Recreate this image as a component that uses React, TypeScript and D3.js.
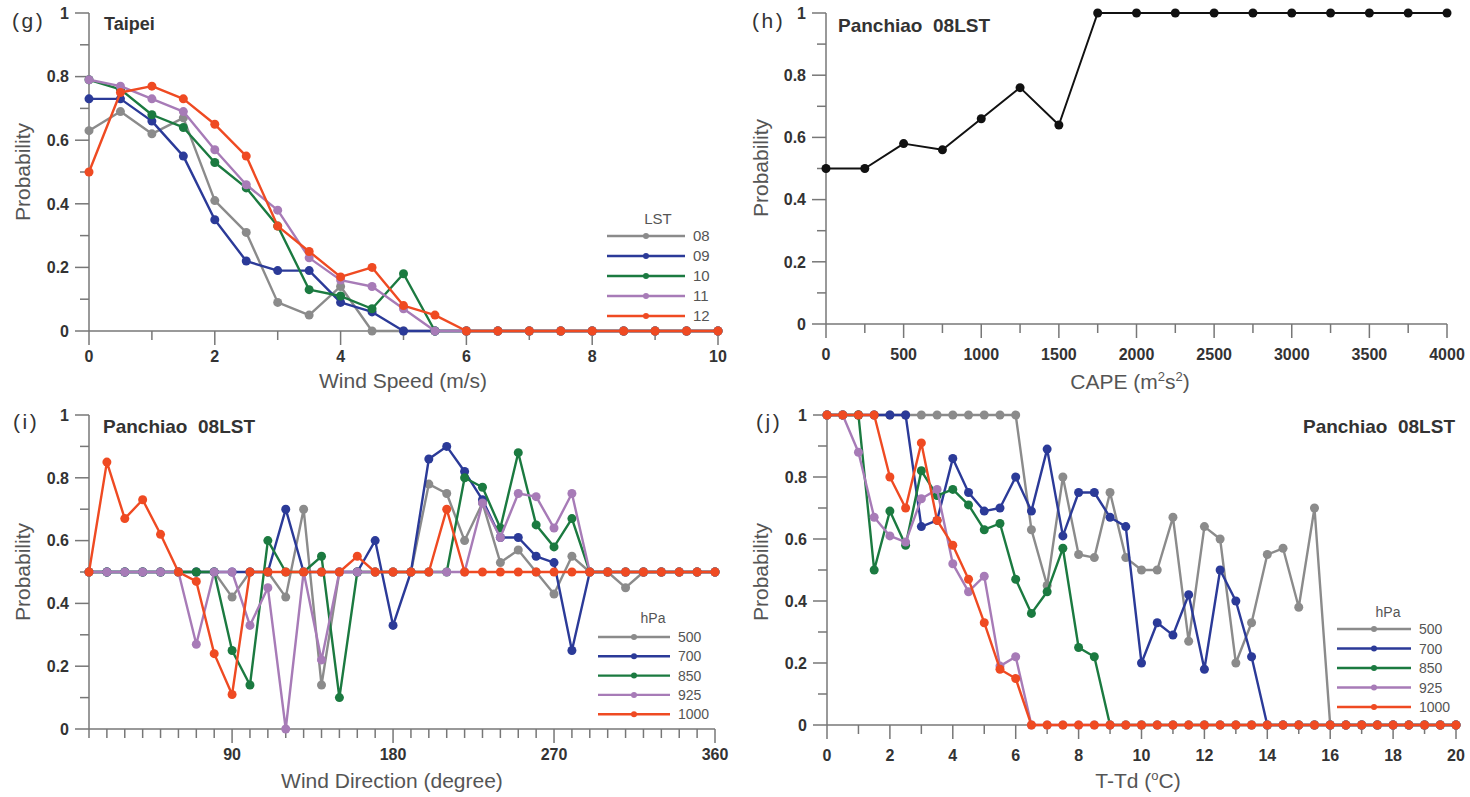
import React from 'react';
import * as d3 from 'd3';

// ---------- (g) Taipei: probability vs wind speed ----------
const windSpeed = [0, 0.5, 1, 1.5, 2, 2.5, 3, 3.5, 4, 4.5, 5, 5.5, 6, 6.5, 7, 7.5, 8, 8.5, 9, 9.5, 10];
const lst08 = [0.63, 0.69, 0.62, 0.67, 0.41, 0.31, 0.09, 0.05, 0.14, 0, 0, 0, 0, 0, 0, 0, 0, 0, 0, 0, 0];
const lst09 = [0.73, 0.73, 0.66, 0.55, 0.35, 0.22, 0.19, 0.19, 0.09, 0.06, 0, 0, 0, 0, 0, 0, 0, 0, 0, 0, 0];
const lst10 = [0.79, 0.76, 0.68, 0.64, 0.53, 0.45, 0.33, 0.13, 0.11, 0.07, 0.18, 0, 0, 0, 0, 0, 0, 0, 0, 0, 0];
const lst11 = [0.79, 0.77, 0.73, 0.69, 0.57, 0.46, 0.38, 0.23, 0.16, 0.14, 0.07, 0, 0, 0, 0, 0, 0, 0, 0, 0, 0];
const lst12 = [0.5, 0.75, 0.77, 0.73, 0.65, 0.55, 0.33, 0.25, 0.17, 0.2, 0.08, 0.05, 0, 0, 0, 0, 0, 0, 0, 0, 0];
const lstLabels = ['08', '09', '10', '11', '12'];

// ---------- (h) Panchiao 08LST: probability vs CAPE ----------
const cape = [0, 250, 500, 750, 1000, 1250, 1500, 1750, 2000, 2250, 2500, 2750, 3000, 3250, 3500, 3750, 4000];
const capeProb = [0.5, 0.5, 0.58, 0.56, 0.66, 0.76, 0.64, 1, 1, 1, 1, 1, 1, 1, 1, 1, 1];

// ---------- (i) Panchiao 08LST: probability vs wind direction ----------
const windDir = [10, 20, 30, 40, 50, 60, 70, 80, 90, 100, 110, 120, 130, 140, 150, 160, 170, 180,
  190, 200, 210, 220, 230, 240, 250, 260, 270, 280, 290, 300, 310, 320, 330, 340, 350, 360];
const dir500 = [0.5, 0.5, 0.5, 0.5, 0.5, 0.5, 0.5, 0.5, 0.42, 0.5, 0.5, 0.42, 0.7, 0.14, 0.5, 0.5, 0.5, 0.5,
  0.5, 0.78, 0.75, 0.6, 0.72, 0.53, 0.57, 0.5, 0.43, 0.55, 0.5, 0.5, 0.45, 0.5, 0.5, 0.5, 0.5, 0.5];
const dir700 = [0.5, 0.5, 0.5, 0.5, 0.5, 0.5, 0.5, 0.5, 0.5, 0.5, 0.5, 0.7, 0.5, 0.5, 0.5, 0.5, 0.6, 0.33,
  0.5, 0.86, 0.9, 0.82, 0.73, 0.61, 0.61, 0.55, 0.53, 0.25, 0.5, 0.5, 0.5, 0.5, 0.5, 0.5, 0.5, 0.5];
const dir850 = [0.5, 0.5, 0.5, 0.5, 0.5, 0.5, 0.5, 0.5, 0.25, 0.14, 0.6, 0.5, 0.5, 0.55, 0.1, 0.5, 0.5, 0.5,
  0.5, 0.5, 0.5, 0.8, 0.77, 0.64, 0.88, 0.65, 0.58, 0.67, 0.5, 0.5, 0.5, 0.5, 0.5, 0.5, 0.5, 0.5];
const dir925 = [0.5, 0.5, 0.5, 0.5, 0.5, 0.5, 0.27, 0.5, 0.5, 0.33, 0.45, 0, 0.5, 0.22, 0.5, 0.5, 0.5, 0.5,
  0.5, 0.5, 0.5, 0.5, 0.72, 0.61, 0.75, 0.74, 0.64, 0.75, 0.5, 0.5, 0.5, 0.5, 0.5, 0.5, 0.5, 0.5];
const dir1000 = [0.5, 0.85, 0.67, 0.73, 0.62, 0.5, 0.47, 0.24, 0.11, 0.5, 0.5, 0.5, 0.5, 0.5, 0.5, 0.55, 0.5, 0.5,
  0.5, 0.5, 0.7, 0.5, 0.5, 0.5, 0.5, 0.5, 0.5, 0.5, 0.5, 0.5, 0.5, 0.5, 0.5, 0.5, 0.5, 0.5];

// ---------- (j) Panchiao 08LST: probability vs T-Td ----------
const tTd = [0, 0.5, 1, 1.5, 2, 2.5, 3, 3.5, 4, 4.5, 5, 5.5, 6, 6.5, 7, 7.5, 8, 8.5, 9, 9.5, 10,
  10.5, 11, 11.5, 12, 12.5, 13, 13.5, 14, 14.5, 15, 15.5, 16, 16.5, 17, 17.5, 18, 18.5, 19, 19.5, 20];
const td500 = [1, 1, 1, 1, 1, 1, 1, 1, 1, 1, 1, 1, 1, 0.63, 0.45, 0.8, 0.55, 0.54, 0.75, 0.54, 0.5,
  0.5, 0.67, 0.27, 0.64, 0.6, 0.2, 0.33, 0.55, 0.57, 0.38, 0.7, 0, 0, 0, 0, 0, 0, 0, 0, 0];
const td700 = [1, 1, 1, 1, 1, 1, 0.64, 0.66, 0.86, 0.75, 0.69, 0.7, 0.8, 0.69, 0.89, 0.61, 0.75, 0.75, 0.67, 0.64, 0.2,
  0.33, 0.29, 0.42, 0.18, 0.5, 0.4, 0.22, 0, 0, 0, 0, 0, 0, 0, 0, 0, 0, 0, 0, 0];
const td850 = [1, 1, 1, 0.5, 0.69, 0.58, 0.82, 0.74, 0.76, 0.71, 0.63, 0.65, 0.47, 0.36, 0.43, 0.57, 0.25, 0.22, 0, 0, 0,
  0, 0, 0, 0, 0, 0, 0, 0, 0, 0, 0, 0, 0, 0, 0, 0, 0, 0, 0, 0];
const td925 = [1, 1, 0.88, 0.67, 0.61, 0.59, 0.73, 0.76, 0.52, 0.43, 0.48, 0.19, 0.22, 0, 0, 0, 0, 0, 0, 0, 0,
  0, 0, 0, 0, 0, 0, 0, 0, 0, 0, 0, 0, 0, 0, 0, 0, 0, 0, 0, 0];
const td1000 = [1, 1, 1, 1, 0.8, 0.7, 0.91, 0.66, 0.58, 0.47, 0.33, 0.18, 0.15, 0, 0, 0, 0, 0, 0, 0, 0,
  0, 0, 0, 0, 0, 0, 0, 0, 0, 0, 0, 0, 0, 0, 0, 0, 0, 0, 0, 0];
const hpaLabels = ['500', '700', '850', '925', '1000'];

const yTickVals = [0, 0.1, 0.2, 0.3, 0.4, 0.5, 0.6, 0.7, 0.8, 0.9, 1];
const yLabelVals = [0, 0.2, 0.4, 0.6, 0.8, 1];

const COLORS = ['#8b8b8b', '#2b3a98', '#1b7a40', '#a77bb7', '#ef4a22'];
const FONT = '"Liberation Sans", Arial, Helvetica, sans-serif';
const AXIS = '#777';
const TXT = '#333';

type Series = { values: number[]; color: string };

type PanelProps = {
  xVals: number[];
  series: Series[];
  xDomain: [number, number];
  xRange: [number, number];
  yRange: [number, number];
  xTicks: number[];
  xLabels: number[];
  labelOffset: number;
  r: number;
  lw: number;
};

function Panel({ xVals, series, xDomain, xRange, yRange, xTicks, xLabels, labelOffset, r, lw }: PanelProps) {
  const x = d3.scaleLinear().domain(xDomain).range(xRange);
  const y = d3.scaleLinear().domain([0, 1]).range(yRange);
  const line = d3.line<number>().x((_, i) => x(xVals[i])).y((d) => y(d));
  const x0 = x(xDomain[0]);
  const y0 = y(0);
  return (
    <g>
      <line x1={x0} x2={x(xDomain[1])} y1={y0} y2={y0} stroke={AXIS} strokeWidth={1.5} />
      <line x1={x0} x2={x0} y1={y0} y2={y(1)} stroke={AXIS} strokeWidth={1.5} />
      {yTickVals.map((v) => {
        const major = yLabelVals.some((m) => Math.abs(m - v) < 1e-9);
        return (
          <g key={'y' + v}>
            <line x1={x0 - (major ? 14 : 9)} x2={x0} y1={y(v)} y2={y(v)} stroke={AXIS} strokeWidth={1.5} />
            {major && (
              <text x={x0 - 20} y={y(v)} dy="0.36em" textAnchor="end" fontSize={16} fontWeight="bold" fill={TXT}>
                {d3.format('~g')(v)}
              </text>
            )}
          </g>
        );
      })}
      {xTicks.map((v) => {
        const major = xLabels.includes(v);
        return (
          <g key={'x' + v}>
            <line x1={x(v)} x2={x(v)} y1={y0} y2={y0 + (major ? 14 : 9)} stroke={AXIS} strokeWidth={1.5} />
            {major && (
              <text x={x(v)} y={y0 + labelOffset} textAnchor="middle" fontSize={16} fontWeight="bold" fill={TXT}>
                {String(v)}
              </text>
            )}
          </g>
        );
      })}
      {series.map((s, si) => (
        <g key={'s' + si}>
          <path d={line(s.values) || ''} fill="none" stroke={s.color} strokeWidth={lw} strokeLinejoin="round" />
          {s.values.map((v, i) => (
            <circle key={i} cx={x(xVals[i])} cy={y(v)} r={r} fill={s.color} />
          ))}
        </g>
      ))}
    </g>
  );
}

function Legend({ title, labels, cx, xl1, xl2, ty, y0, step, fs }: {
  title: string; labels: string[]; cx: number; xl1: number; xl2: number; ty: number; y0: number; step: number; fs: number;
}) {
  return (
    <g>
      <text x={cx} y={ty} textAnchor="middle" fontSize={fs} fill="#555">{title}</text>
      {labels.map((l, i) => {
        const yy = y0 + i * step;
        return (
          <g key={l}>
            <line x1={xl1} x2={xl2} y1={yy} y2={yy} stroke={COLORS[i]} strokeWidth={2.4} />
            <circle cx={(xl1 + xl2) / 2} cy={yy} r={3} fill={COLORS[i]} />
            <text x={xl2 + 8} y={yy} dy="0.36em" fontSize={fs} fill="#555">{l}</text>
          </g>
        );
      })}
    </g>
  );
}

function mk(vals: number[][]): Series[] {
  return vals.map((v, i) => ({ values: v, color: COLORS[i] }));
}

export default function App() {
  return (
    <svg width={1470} height={797} style={{ position: 'absolute', left: 0, top: 0, background: '#fff' }} fontFamily={FONT}>
      {/* (g) */}
      <Panel xVals={windSpeed} series={mk([lst08, lst09, lst10, lst11, lst12])} xDomain={[0, 10]} xRange={[89, 718]}
        yRange={[331, 13]} xTicks={d3.range(0, 11, 1)} xLabels={[0, 2, 4, 6, 8, 10]} labelOffset={31} r={4.5} lw={2.4} />
      <text x={12} y={28} fontSize={21} fill={TXT} letterSpacing={2.5}>(g)</text>
      <text x={104} y={30} fontSize={18} fontWeight="bold" fill={TXT}>Taipei</text>
      <text transform="translate(30,172) rotate(-90)" textAnchor="middle" fontSize={21} fill="#555">Probability</text>
      <text x={403} y={388} textAnchor="middle" fontSize={21} fill="#555">Wind Speed (m/s)</text>
      <Legend title="LST" labels={lstLabels} cx={658} xl1={607} xl2={685} ty={224} y0={236} step={20} fs={15} />

      {/* (h) */}
      <Panel xVals={cape} series={[{ values: capeProb, color: '#111' }]} xDomain={[0, 4000]} xRange={[826, 1447]}
        yRange={[324, 13]} xTicks={d3.range(0, 4001, 250)} xLabels={[0, 500, 1000, 1500, 2000, 2500, 3000, 3500, 4000]}
        labelOffset={36} r={4.5} lw={2} />
      <text x={752} y={28} fontSize={21} fill={TXT} letterSpacing={2.5}>(h)</text>
      <text x={838} y={32} fontSize={19} fontWeight="bold" fill={TXT} style={{ whiteSpace: 'pre' }}>Panchiao  08LST</text>
      <text transform="translate(768,168) rotate(-90)" textAnchor="middle" fontSize={21} fill="#555">Probability</text>
      <text x={1130} y={389} textAnchor="middle" fontSize={21} fill="#555">
        CAPE (m<tspan dy={-8} fontSize={13}>2</tspan><tspan dy={8}>s</tspan><tspan dy={-8} fontSize={13}>2</tspan><tspan dy={8}>)</tspan>
      </text>

      {/* (i) */}
      <Panel xVals={windDir} series={mk([dir500, dir700, dir850, dir925, dir1000])} xDomain={[10, 360]} xRange={[89, 715]}
        yRange={[729, 415]} xTicks={d3.range(10, 361, 10)} xLabels={[90, 180, 270, 360]} labelOffset={31} r={4.5} lw={2.4} />
      <text x={13} y={429} fontSize={21} fill={TXT} letterSpacing={2.5}>(i)</text>
      <text x={103} y={433} fontSize={19} fontWeight="bold" fill={TXT} style={{ whiteSpace: 'pre' }}>Panchiao  08LST</text>
      <text transform="translate(30,572) rotate(-90)" textAnchor="middle" fontSize={21} fill="#555">Probability</text>
      <text x={392} y={788} textAnchor="middle" fontSize={21} fill="#555">Wind Direction (degree)</text>
      <Legend title="hPa" labels={hpaLabels} cx={653} xl1={598} xl2={670} ty={623} y0={637} step={19.3} fs={14} />

      {/* (j) */}
      <Panel xVals={tTd} series={mk([td500, td700, td850, td925, td1000])} xDomain={[0, 20]} xRange={[827, 1456]}
        yRange={[725, 415]} xTicks={d3.range(0, 21, 1)} xLabels={[0, 2, 4, 6, 8, 10, 12, 14, 16, 18, 20]}
        labelOffset={36} r={4.5} lw={2.4} />
      <text x={756} y={429} fontSize={21} fill={TXT} letterSpacing={2.5}>(j)</text>
      <text x={1455} y={433} textAnchor="end" fontSize={19} fontWeight="bold" fill={TXT} style={{ whiteSpace: 'pre' }}>Panchiao  08LST</text>
      <text transform="translate(768,572) rotate(-90)" textAnchor="middle" fontSize={21} fill="#555">Probability</text>
      <text x={1138} y={788} textAnchor="middle" fontSize={21} fill="#555">
        T-Td (<tspan dy={-8} fontSize={13}>o</tspan><tspan dy={8}>C)</tspan>
      </text>
      <Legend title="hPa" labels={hpaLabels} cx={1388} xl1={1337} xl2={1411} ty={617} y0={629} step={19.5} fs={14} />
    </svg>
  );
}
